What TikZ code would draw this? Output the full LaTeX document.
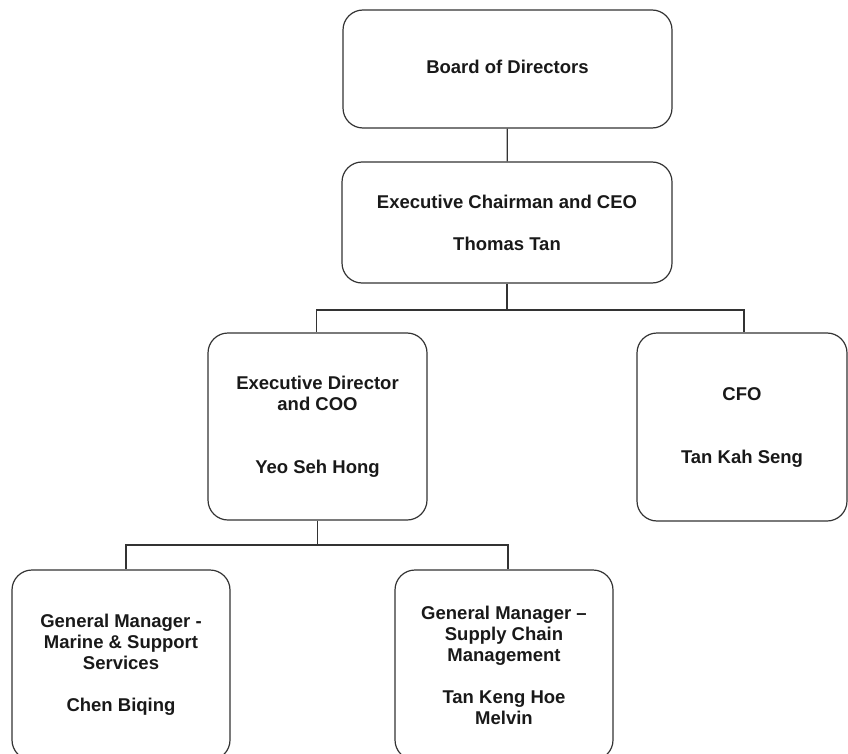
\documentclass[tikz,border=0pt]{standalone}
\usepackage{fontspec}
\setmainfont{Liberation Sans}
\usepackage{tikz}

\begin{document}
\begin{tikzpicture}[x=1pt, y=-1pt,
        box/.style={draw=black!80, line width=1.2pt, rounded corners=20pt, align=center,
            inner sep=0pt, font=\fontsize{18.5}{21}\selectfont\bfseries, text=black!90},
        link/.style={draw=black!80, line width=1.2pt}]
        \useasboundingbox (0, 0) rectangle (848, 754);

        \node [box, minimum width=329pt, minimum height=118pt] (board) at (507.5, 69) {\raisebox{5pt}{Board of Directors}};
        \node [box, minimum width=330pt, minimum height=121pt] (ceo) at (507, 222.5) {Executive Chairman and CEO\\[21pt] Thomas Tan};
        \node [box, minimum width=219pt, minimum height=187pt] (coo) at (317.5, 426.5) {Executive Director\\ and COO\\[42pt] Yeo Seh Hong};
        \node [box, minimum width=210pt, minimum height=188pt] (cfo) at (742, 427) {CFO\\[42pt] Tan Kah Seng};
        \node [box, minimum width=218pt, minimum height=190pt] (gmA) at (121, 665) {General Manager -\\ Marine \& Support\\ Services\\[21pt] Chen Biqing};
        \node [box, minimum width=218pt, minimum height=190pt] (gmB) at (504, 665) {General Manager --\\ Supply Chain\\ Management\\[21pt] Tan Keng Hoe\\ Melvin};

        \coordinate (split1) at (507, 310);
        \coordinate (split2) at (317.5, 545);

        \draw [link] (board) -- (ceo);
        \draw [link] (ceo.south) -- (split1) -| ([xshift=-1pt]coo.north);
        \draw [link] (split1) -| ([xshift=2pt]cfo.north);
        \draw [link] (coo.south) -- (split2) -| ([xshift=5pt]gmA.north);
        \draw [link] (split2) -| ([xshift=4pt]gmB.north);
    \end{tikzpicture}
\end{document}
